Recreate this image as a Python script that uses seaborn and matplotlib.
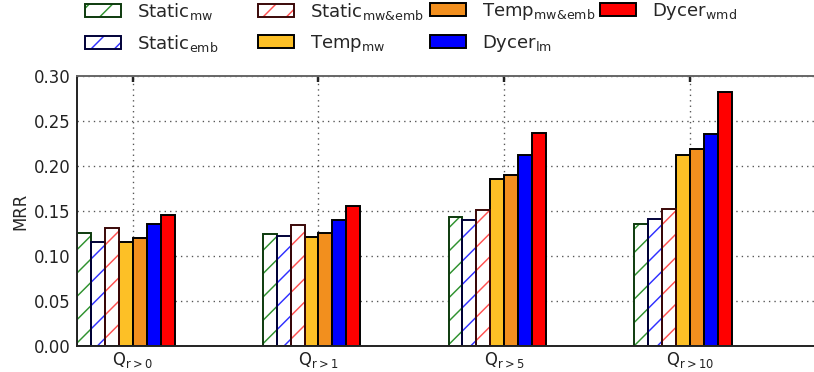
import numpy as np
import pandas as pd
import matplotlib
matplotlib.use("Agg")
import matplotlib.pyplot as plt
import seaborn as sns
from matplotlib.patches import Rectangle, Patch
from matplotlib.legend_handler import HandlerTuple
from matplotlib.mathtext import MathTextParser

plt.rcParams["mathtext.default"] = "regular"
_parser = MathTextParser("agg")


def pick(*cands):
    for c in cands:
        try:
            _parser.parse(c, 72)
            return c
        except Exception:
            pass
    return cands[-1]


amp_mw_emb = pick(r"$Static_{mw&emb}$", r"$Static_{mw\&emb}$", r"$Static_{mw\mathrm{&}emb}$",
                  "Static$_{mw}$&$_{emb}$")
amp_temp = pick(r"$Temp_{mw&emb}$", r"$Temp_{mw\&emb}$", r"$Temp_{mw\mathrm{&}emb}$",
                "Temp$_{mw}$&$_{emb}$")

# ---- data ----
groups = [r"$Q_{r>0}$", r"$Q_{r>1}$", r"$Q_{r>5}$", r"$Q_{r>10}$"]
methods = [r"$Static_{mw}$", r"$Static_{emb}$", amp_mw_emb, r"$Temp_{mw}$",
           amp_temp, r"$Dycer_{lm}$", r"$Dycer_{wmd}$"]
static_mw = [0.126, 0.125, 0.143, 0.136]
static_emb = [0.116, 0.122, 0.140, 0.141]
static_mwemb = [0.131, 0.134, 0.151, 0.152]
temp_mw = [0.116, 0.121, 0.186, 0.212]
temp_mwemb = [0.120, 0.126, 0.190, 0.219]
dycer_lm = [0.136, 0.140, 0.212, 0.236]
dycer_wmd = [0.146, 0.156, 0.237, 0.282]
yticks = [0.00, 0.05, 0.10, 0.15, 0.20, 0.25, 0.30]

series = [static_mw, static_emb, static_mwemb, temp_mw, temp_mwemb, dycer_lm, dycer_wmd]
rows = []
for m, vals in zip(methods, series):
    for g, v in zip(groups, vals):
        rows.append({"group": g, "method": m, "MRR": v})
df = pd.DataFrame(rows)

face_colors = ["white", "white", "white", "#FDC026", "#F28F1E", "#0000FF", "#FF0000"]
hatch_colors = ["#2f922f", "#3030ff", "#ff5050"]
outline_colors = ["#0d3a0d", "#000038", "#3a0808"]

# ---- figure ----
sns.set_theme(style="white")
plt.rcParams["font.family"] = ["DejaVu Sans"]
plt.rcParams["hatch.linewidth"] = 0.75
plt.rcParams["mathtext.default"] = "regular"

DPI = 140
fig = plt.figure(figsize=(814 / DPI, 372 / DPI), dpi=DPI)
ax = fig.add_axes([77 / 814, 26 / 372, 743 / 814, 270 / 372])

width = 0.525
sns.barplot(data=df, x="group", y="MRR", hue="method", order=groups,
            hue_order=methods, palette=face_colors, width=width, saturation=1,
            edgecolor="black", linewidth=1.0, legend=False, ax=ax, errorbar=None)

# hatched "Static" bars: hatch in colour, darker outline on top
for k in range(3):
    for p in ax.containers[k]:
        p.set_facecolor("white")
        p.set_hatch("//")
        p.set_edgecolor(hatch_colors[k])
        p.set_linewidth(0)
        ax.add_patch(Rectangle((p.get_x(), p.get_y()), p.get_width(), p.get_height(),
                               fill=False, edgecolor=outline_colors[k], linewidth=1.0,
                               zorder=p.get_zorder() + 0.1))

ax.set_xlim(-width / 2, len(groups) - width / 2)
ax.set_ylim(0, 0.30)
ax.set_xticks(np.arange(len(groups)) - width / 2 + 0.3)
ax.set_xticklabels(groups, fontsize=8.5)
ax.set_yticks(yticks)
ax.set_yticklabels([f"{t:.2f}" for t in yticks], fontsize=8.5)
ax.set_xlabel("")
ax.set_ylabel("MRR", fontsize=8.5, labelpad=2)
ax.tick_params(direction="in", length=3, top=True, right=True,
               colors="#222222", labelcolor="#222222")
ax.tick_params(axis="y", pad=3.5)
ax.tick_params(axis="x", pad=2)
ax.set_axisbelow(True)
ax.grid(True, linestyle=(0, (1, 3)), color="#555555", linewidth=0.7)
for s in ax.spines.values():
    s.set_color("#222222")
    s.set_linewidth(1.0)
ax.spines["top"].set_color("#666666")

# ---- legend (4 evenly spaced columns) ----
handles = []
for k in range(7):
    if k < 3:
        h = (Patch(facecolor="white", edgecolor=hatch_colors[k], hatch="//", linewidth=0),
             Patch(fill=False, edgecolor=outline_colors[k], linewidth=1.0))
    else:
        h = Patch(facecolor=face_colors[k], edgecolor="black", linewidth=1.0)
    handles.append(h)

col_x = [85, 258, 430, 600]
cols = [[0, 1], [2, 3], [4, 5], [6]]
for cx, idx in zip(col_x, cols):
    fig.legend([handles[i] for i in idx], [methods[i] for i in idx],
               loc="upper left", bbox_to_anchor=(cx / 814, 1 - 1 / 372),
               frameon=False, fontsize=9.3, borderpad=0, borderaxespad=0,
               handlelength=2.0, handleheight=0.75, handletextpad=0.9,
               labelspacing=0.6,
               handler_map={tuple: HandlerTuple(ndivide=1, pad=0)})

fig.savefig("out.png", dpi=DPI)
